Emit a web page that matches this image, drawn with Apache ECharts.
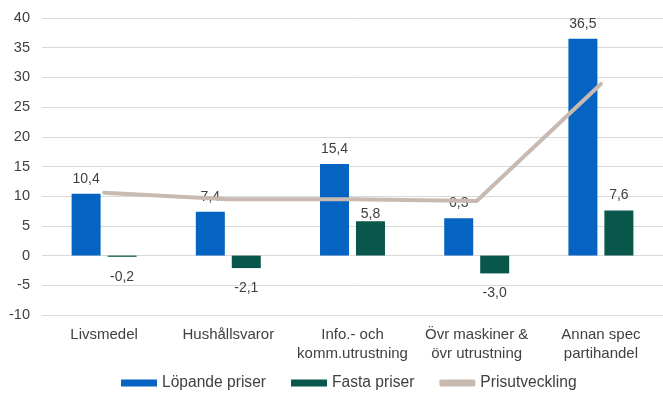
<!DOCTYPE html>
<html>
<head>
<meta charset="utf-8">
<script src="https://cdn.jsdelivr.net/npm/echarts@6/dist/echarts.min.js"></script>
<style>
  html, body { margin: 0; padding: 0; background: #fff; }
  #chart { width: 663px; height: 394px; }
</style>
</head>
<body>
<div id="chart"></div>
<script>
// Branches of wholesale trade
const categories = ['Livsmedel', 'Hushållsvaror', 'Info.- och\nkomm.utrustning', 'Övr maskiner &\növr utrustning', 'Annan spec\npartihandel'];
const lopandePriser = [10.4, 7.4, 15.4, 6.3, 36.5];
const fastaPriser = [-0.2, -2.1, 5.8, -3.0, 7.6];
const prisutveckling = [10.6, 9.5, 9.5, 9.2, 28.9];
const yTicks = { min: -10, max: 40, interval: 5 };

const fmt = v => v.toFixed(1).replace('.', ',');
const textColor = '#404040';
const font = 'Liberation Sans, Arial, sans-serif';
const lineColor = '#C8BAB1';

// label placement for the constant-price bars: below negatives, above positives;
// the 5,8 label sits tight on its bar to stay clear of the price line
function fastaLabel(v, i) {
  if (v < 0) return { position: 'bottom', distance: 13 };
  if (i === 2) return { position: 'top', distance: 0 };
  return { position: 'top', distance: 8 };
}

const chart = echarts.init(document.getElementById('chart'));
chart.setOption({
  animation: false,
  textStyle: { fontFamily: font },
  grid: { left: 42, right: -3, top: 18, bottom: 79 },
  legend: {
    bottom: -2,
    left: 116,
    itemWidth: 36,
    itemHeight: 7,
    itemGap: 25,
    textStyle: { color: textColor, fontSize: 15.6, fontFamily: font },
    data: [
      { name: 'Löpande priser', icon: 'rect' },
      { name: 'Fasta priser', icon: 'rect' },
      { name: 'Prisutveckling', icon: 'roundRect', itemStyle: { color: lineColor } }
    ]
  },
  xAxis: {
    type: 'category',
    data: categories,
    axisLine: { show: false },
    axisTick: { show: false },
    axisLabel: { interval: 0, color: textColor, fontSize: 15, lineHeight: 19, margin: 10, fontFamily: font }
  },
  yAxis: {
    type: 'value',
    min: yTicks.min,
    max: yTicks.max,
    interval: yTicks.interval,
    axisLine: { show: false },
    axisTick: { show: false },
    axisLabel: { color: textColor, fontSize: 14.5, margin: 12, fontFamily: font },
    splitLine: { lineStyle: { color: '#d9d9d9', width: 1 } }
  },
  series: [
    {
      name: 'Löpande priser',
      type: 'bar',
      data: lopandePriser,
      barWidth: 29,
      barGap: '24%',
      itemStyle: { color: '#0563C1' },
      label: {
        show: true,
        position: 'top',
        distance: 8,
        color: textColor,
        fontSize: 14,
        fontFamily: font,
        formatter: p => fmt(p.value)
      }
    },
    {
      name: 'Fasta priser',
      type: 'bar',
      data: fastaPriser.map((v, i) => ({ value: v, label: fastaLabel(v, i) })),
      barWidth: 29,
      itemStyle: { color: '#08574A' },
      label: {
        show: true,
        color: textColor,
        fontSize: 14,
        fontFamily: font,
        formatter: p => fmt(p.value)
      }
    },
    {
      name: 'Prisutveckling',
      type: 'line',
      data: prisutveckling,
      symbol: 'none',
      z: 3,
      lineStyle: { color: lineColor, width: 4, cap: 'round' },
      itemStyle: { color: lineColor }
    }
  ]
});
</script>
</body>
</html>
